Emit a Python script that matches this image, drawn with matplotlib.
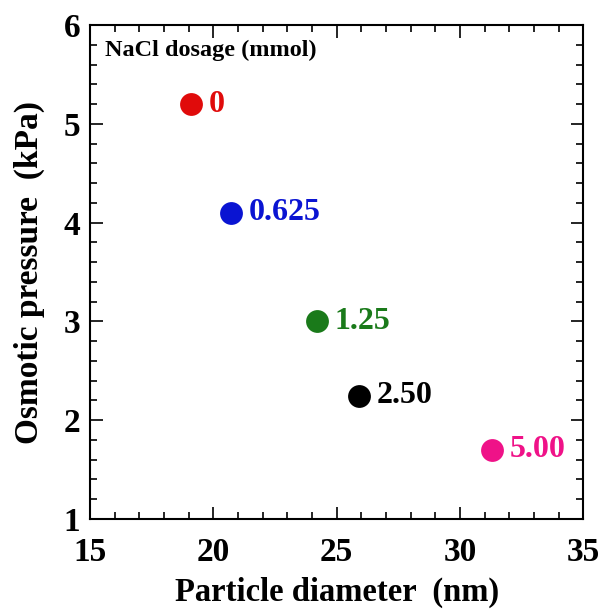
import matplotlib
matplotlib.use('Agg')
import matplotlib.pyplot as plt
from matplotlib.ticker import MultipleLocator

# NaCl dosage series: particle diameter vs osmotic pressure
diameter = [19.1, 20.7, 24.2, 25.9, 31.3]
pressure = [5.2, 4.1, 3.0, 2.25, 1.7]
dosage_labels = ['0', '0.625', '1.25', '2.50', '5.00']
colors = ['#e00b0b', '#0a14d2', '#1a7a1a', '#000000', '#ef1288']

plt.rcParams['font.family'] = ['Liberation Serif', 'DejaVu Serif']
plt.rcParams['font.weight'] = 'bold'

fig = plt.figure(figsize=(6, 6.12), dpi=100)
ax = fig.add_axes([0.15, 0.152, 0.822, 0.807])

for x, y, lab, c in zip(diameter, pressure, dosage_labels, colors):
    ax.scatter(x, y, s=270, color=c, zorder=3, linewidths=0)
    ax.annotate(lab, (x, y), xytext=(13, 0), textcoords='offset points',
                color=c, fontsize=23, fontweight='bold', va='center', ha='left')

ax.text(0.03, 0.949, 'NaCl dosage (mmol)', transform=ax.transAxes,
        fontsize=17.5, fontweight='bold', va='center')

ax.set_xlim(15, 35)
ax.set_ylim(1, 6)
ax.xaxis.set_major_locator(MultipleLocator(5))
ax.xaxis.set_minor_locator(MultipleLocator(1))
ax.yaxis.set_major_locator(MultipleLocator(1))
ax.yaxis.set_minor_locator(MultipleLocator(0.2))
ax.tick_params(which='both', direction='in', top=True, right=True, width=1.2)
ax.tick_params(which='major', length=9, labelsize=24)
ax.tick_params(which='minor', length=5)
ax.tick_params(axis='x', which='major', pad=13)
ax.tick_params(axis='y', which='major', pad=7)
for sp in ax.spines.values():
    sp.set_linewidth(1.5)

ax.set_xlabel('Particle diameter  (nm)', fontsize=23.5, fontweight='bold', labelpad=6)
ax.set_ylabel('Osmotic pressure  (kPa)', fontsize=24, fontweight='bold', labelpad=13)

fig.savefig('out.png', dpi=100)
